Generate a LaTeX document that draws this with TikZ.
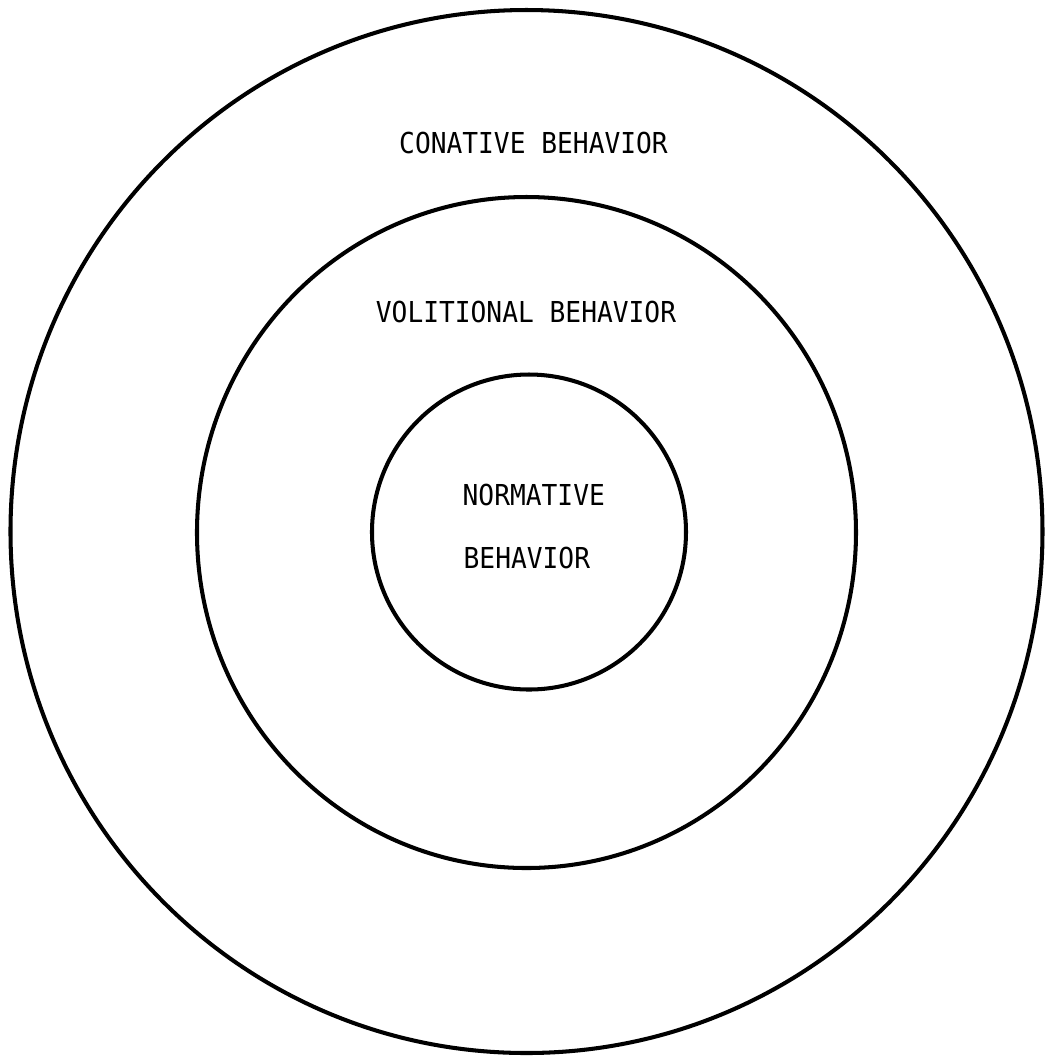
\documentclass[tikz,border=0pt]{standalone}
\usepackage{fontspec}
\newfontfamily\labelfont{DejaVu Sans Mono}
\begin{document}
\begin{tikzpicture}[x=0.01cm,y=-0.01cm,
  ring/.style={line width=1.15pt},
  lbl/.style={inner sep=0pt, font=\labelfont\fontsize{8.2pt}{10pt}\selectfont}]
\useasboundingbox (0,0) rectangle (1047,1056);
\draw[ring] (526.5,531.5) ellipse [x radius=516, y radius=521.5];
\draw[ring] (526.5,532.5) ellipse [x radius=329.5, y radius=335.5];
\draw[ring] (529,532) ellipse [x radius=157, y radius=157.5];
\node[lbl] (conative) at (533.5,143) {\scalebox{0.91}[1]{CONATIVE BEHAVIOR}};
\node[lbl] (volitional) at (526,312) {\scalebox{0.91}[1]{VOLITIONAL BEHAVIOR}};
\node[lbl, anchor=west] (normative) at (462,495) {\scalebox{0.91}[1]{NORMATIVE}};
\node[lbl, anchor=west] (behavior) at (463,558) {\scalebox{0.91}[1]{BEHAVIOR}};
\end{tikzpicture}
\end{document}
